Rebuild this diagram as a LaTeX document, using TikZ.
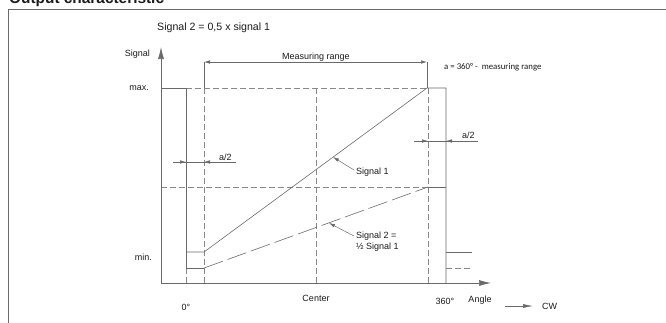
\documentclass[tikz,border=0pt]{standalone}
\usepackage{fontspec}
\setmainfont{Liberation Sans}
\newfontfamily\calfont{Carlito}
\usepackage{tikz}
\usetikzlibrary{arrows.meta}
\usepackage{xcolor}

\definecolor{linegray}{HTML}{6A6A6A}
\definecolor{textgray}{HTML}{1A1A1A}

\begin{document}
\begin{tikzpicture}[x=1pt,y=-1pt,>={Latex[length=6pt,width=3.5pt]},
  every node/.style={inner sep=0pt,text=textgray,font=\fontsize{9}{10.5}\selectfont},
  solidline/.style={linegray,line width=0.6pt},
  dashline/.style={linegray!80,line width=0.5pt,dash pattern=on 6pt off 3pt},
  axis/.style={linegray,line width=0.6pt,-{Latex[length=12pt,width=6pt]}},
  dim/.style={linegray,line width=0.5pt}]
\useasboundingbox (0,0) rectangle (666,322);
%%%FRAME
\draw[linegray,line width=0.8pt] (8,330) -- (8,9) -- (680,9);
\node[anchor=base west,font=\bfseries\fontsize{15.4}{17}\selectfont] (title) at (9,3) {Output characteristic};
\node[anchor=west,font=\fontsize{10.6}{12}\selectfont] (ratio) at (157,28) {Signal 2 = 0,5 x signal 1};
%%%POINTS
\coordinate (origin) at (161,283);
\coordinate (ymax) at (161,88);
\coordinate (ymid) at (161,187);
\coordinate (s1start) at (204,252);
\coordinate (s1end) at (427,88);
\coordinate (s2start) at (204,268);
\coordinate (s2end) at (428,187);
\coordinate (s1pt) at (333,157);
\coordinate (s2pt) at (329,223);
%%%GRID
\draw[dashline] (186,268) -- (186,283);
\draw[dashline] (204,88) -- (204,283);
\draw[dashline] (316,88) -- (316,283);
\draw[dashline] (428,88) -- (428,283);
\draw[dashline] (186,88) -- (427,88);
\draw[dashline] (ymid) -- (428,187);
\draw[dashline] (446,268) -- (472,268);
%%%AXES
\draw[axis] (origin) -- (161,47);
\draw[axis] (origin) -- (491,283);
\node[anchor=east] (ysig) at (150,54) {Signal};
\node[anchor=east] (ymaxlbl) at (149,88) {max.};
\node[anchor=east] (yminlbl) at (152,257) {min.};
\node (zero) at (186,307) {0°};
\node (center) at (316,298) {Center};
\node (full) at (445,301) {360°};
\node (angle) at (480,300) {Angle};
\node[anchor=west] (cw) at (542,306) {CW};
\draw[linegray,line width=0.6pt,-{Latex[length=10pt,width=4pt]}] (505,306) -- (cw.west -| 533,306);
%%%SIGNALS
\draw[solidline] (ymax) -- (186,88) -- (186,268) -- (s2start);
\draw[solidline] (186,252) -- (s1start) -- (s1end) -- (446,88) -- (446,283);
\draw[solidline] (446,252) -- (472,252);
\draw[solidline,dash pattern=on 20pt off 5pt] (s2start) -- (s2end);
\draw[solidline] (s2end) -- (446,187);
%%%MEASURING RANGE
\draw[dim] (204,62) -- (204,88);
\draw[dim] (427,62) -- (427,88);
\draw[dim,<->] (204,62) -- (427,62);
\node[anchor=base] (mrange) at (316,59) {Measuring range};
\node[anchor=west,font=\calfont\fontsize{8.8}{10}\selectfont] (adef) at (444,67) {a = 360° -\ \ measuring range};
%%%A/2
\draw[dim] (173,162) -- (236,162);
\draw[dim,->] (178,162) -- (186,162);
\draw[dim,->] (212,162) -- (204,162);
\node[anchor=west] (ahalfl) at (219,157) {a/2};
\draw[dim] (414,141) -- (478,141);
\draw[dim,->] (420,141) -- (428,141);
\draw[dim,->] (454,141) -- (446,141);
\node[anchor=west] (ahalfr) at (462,135) {a/2};
%%%LABELS
\node[anchor=west] (sig1lbl) at (356,172) {Signal 1};
\draw[dim,->] ([xshift=-2pt,yshift=2pt]sig1lbl.west) -- (s1pt);
\node[anchor=north west,align=left,font=\fontsize{9}{11}\selectfont] (sig2lbl) at (356,232) {Signal 2 =\\½ Signal 1};
\draw[dim,->] ([xshift=-2pt,yshift=-4pt]sig2lbl.north west) -- (s2pt);
\end{tikzpicture}
\end{document}
